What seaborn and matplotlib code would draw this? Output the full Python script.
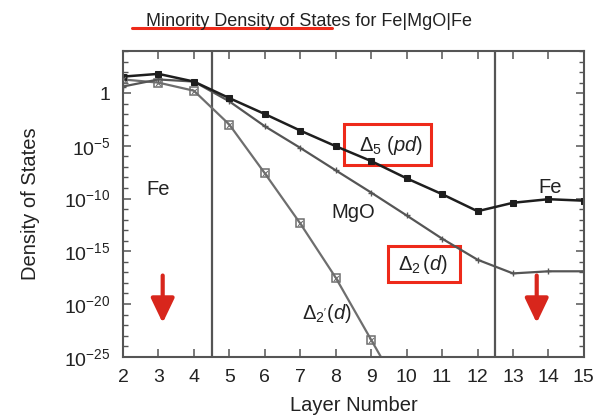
import numpy as np
import pandas as pd
import matplotlib
matplotlib.use("Agg")
import matplotlib.pyplot as plt
from matplotlib.ticker import FixedLocator, FixedFormatter
from matplotlib.patches import Rectangle
import seaborn as sns

# Layer index and log10 of the minority density of states per channel
layers = [2, 3, 4, 5, 6, 7, 8, 9, 10, 11, 12, 13, 14, 15]
log_delta5 = [1.57, 1.83, 1.1, -0.47, -1.98, -3.55, -5.03, -6.44, -8.08, -9.58, -11.2, -10.4, -10.06, -10.2]
log_delta2 = [0.63, 1.3, 1.1, -0.78, -3.14, -5.19, -7.32, -9.43, -11.6, -13.8, -15.8, -17.1, -16.9, -16.9]
layers_d2p = [2, 3, 4, 5, 6, 7, 8, 9, 10]
log_delta2p = [1.3, 1.0, 0.23, -2.98, -7.6, -12.36, -17.5, -23.4, -29.3]

interfaces = [4.5, 12.5]
xtick_vals = list(range(2, 16))
ytick_exps = [0, -5, -10, -15, -20, -25]
ytick_labels = ["1"] + [r"$\mathregular{10^{%d}}$" % e for e in ytick_exps[1:]]

sns.set_theme(style="ticks")
plt.rcParams["font.family"] = ["Liberation Sans", "DejaVu Sans"]
plt.rcParams["mathtext.fontset"] = "custom"
plt.rcParams["mathtext.rm"] = "Liberation Sans"
plt.rcParams["mathtext.it"] = "Liberation Sans:italic"
plt.rcParams["mathtext.sf"] = "Liberation Sans"

df5 = pd.DataFrame({"layer": layers, "dos": np.power(10.0, log_delta5)})
df2 = pd.DataFrame({"layer": layers, "dos": np.power(10.0, log_delta2)})
df2p = pd.DataFrame({"layer": layers_d2p, "dos": np.power(10.0, log_delta2p)})

fig = plt.figure(figsize=(5.97, 4.18), dpi=100)
ax = fig.add_axes([0.206, 0.1467, 0.772, 0.7313])

c5, c2, c2p = "#1e1e1e", "#555555", "#6e6e6e"
txt = "#222222"

sns.lineplot(data=df2p, x="layer", y="dos", ax=ax, color=c2p, lw=1.6,
             marker="s", markersize=6, markerfacecolor="none",
             markeredgecolor=c2p, markeredgewidth=1.1)
sns.scatterplot(data=df2p, x="layer", y="dos", ax=ax, marker="x",
                s=12, color=c2p, linewidth=0.8, zorder=5)
sns.lineplot(data=df2, x="layer", y="dos", ax=ax, color=c2, lw=1.6,
             marker="+", markersize=5, markeredgecolor=c2, markeredgewidth=1.0)
sns.lineplot(data=df5, x="layer", y="dos", ax=ax, color=c5, lw=1.8,
             marker="s", markersize=4.5, markerfacecolor=c5, markeredgecolor=c5)

for xv in interfaces:
    ax.axvline(xv, color="#555555", lw=1.6, zorder=1)

ax.set_yscale("log")
ax.set_xlim(2, 15)
ax.set_ylim(1e-25, 1e4)

ax.xaxis.set_major_locator(FixedLocator(xtick_vals))
ax.yaxis.set_major_locator(FixedLocator([10.0 ** e for e in ytick_exps]))
ax.yaxis.set_major_formatter(FixedFormatter(ytick_labels))
ax.yaxis.set_minor_locator(FixedLocator([10.0 ** e for e in range(-25, 5) if e % 5 != 0]))
ax.yaxis.set_minor_formatter(FixedFormatter([]))

ax.tick_params(which="both", direction="in", top=True, right=True,
               colors="#555555", labelcolor=txt, labelsize=14)
ax.tick_params(which="major", length=6, width=1.1)
ax.tick_params(which="minor", length=3.5, width=1.0)
ax.tick_params(axis="x", which="major", pad=9)
ax.tick_params(axis="y", which="major", pad=9)
for sp in ax.spines.values():
    sp.set_color("#555555")
    sp.set_linewidth(1.5)

ax.set_xlabel("Layer Number", fontsize=14.5, color=txt, labelpad=7)
ax.set_ylabel("Density of States", fontsize=14.5, color=txt, labelpad=17)

fig.text(0.518, 0.948, "Minority Density of States for Fe|MgO|Fe",
         ha="center", va="center", fontsize=13, color=txt)
fig.add_artist(plt.Line2D([0.221, 0.556], [0.933, 0.933], color="#ee2a1a", lw=2.2))

# Region and channel annotations
ax.text(2.98, 10 ** -9.1, "Fe", ha="center", va="center", fontsize=14.5, color=txt)
ax.text(14.05, 10 ** -8.95, "Fe", ha="center", va="center", fontsize=14.5, color=txt)
ax.text(8.5, 10 ** -11.3, "MgO", ha="center", va="center", fontsize=14.5, color=txt)
ax.text(9.55, 10 ** -5.0, r"$\Delta_5$ $(pd)$", ha="center", va="center", fontsize=14.5, color=txt)
ax.text(10.45, 10 ** -16.3, r"$\Delta_2$$\,(d)$", ha="center", va="center", fontsize=14.5, color=txt)
ax.text(7.75, 10 ** -20.9, r"$\Delta_{2'}(d)$", ha="center", va="center", fontsize=14.5, color=txt)

ax.add_patch(Rectangle((344 / 597, (418 - 165) / 418), 87 / 597, 41 / 418,
                       transform=fig.transFigure, fill=False, ec="#ee2a1a", lw=2.2, clip_on=False))
ax.add_patch(Rectangle((388 / 597, (418 - 282) / 418), 72 / 597, 36 / 418,
                       transform=fig.transFigure, fill=False, ec="#ee2a1a", lw=2.2, clip_on=False))

for xa in [3.12, 13.67]:
    ax.annotate("", xy=(xa, 10 ** -21.8), xytext=(xa, 10 ** -17.3),
                arrowprops=dict(arrowstyle="-|>,head_width=0.55,head_length=1.15",
                                mutation_scale=13, shrinkA=0, shrinkB=0,
                                color="#d8261c", lw=3))

fig.savefig("out.png", dpi=100)
